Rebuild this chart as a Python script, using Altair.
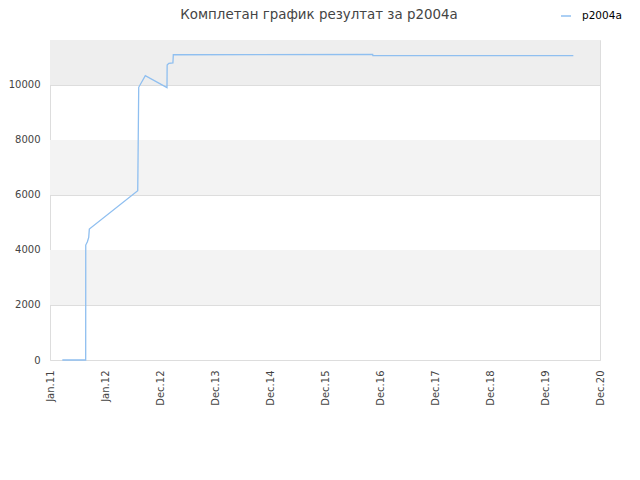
import altair as alt
import pandas as pd

# ---- data ----
x_labels = ["Jan.11", "Jan.12", "Dec.12", "Dec.13", "Dec.14", "Dec.15",
            "Dec.16", "Dec.17", "Dec.18", "Dec.19", "Dec.20"]
x_pos = [0.224, 0.649, 0.650, 0.680, 0.704, 0.715, 1.595, 1.598, 1.613,
         1.733, 2.127, 2.130, 2.160, 2.235, 2.242, 5.867, 5.870, 9.515]
y_val = [0, 0, 4180, 4300, 4460, 4760, 6157, 6730, 9916,
         10338, 9902, 10727, 10788, 10800, 11100, 11110, 11070, 11070]
series_name = "p2004a"
y_ticks = [0, 2000, 4000, 6000, 8000, 10000]
y_max = 11636
band_lo = [2000, 6000, 10000]
band_hi = [4000, 8000, 11636]
band_col = ["#f3f3f3", "#f3f3f3", "#eeeeee"]
title_text = "Комплетан график резултат за p2004a"

line_df = pd.DataFrame({"x": x_pos, "y": y_val, "s": series_name,
                        "o": list(range(len(x_pos)))})
band_df = pd.DataFrame({"lo": band_lo, "hi": band_hi, "c": band_col})

label_js = "[" + ",".join("'" + l + "'" for l in x_labels) + "][datum.value]"

yscale = alt.Scale(domain=[0, y_max], nice=False, zero=True)
xscale = alt.Scale(domain=[0, 10], nice=False, zero=True)

y_axis = alt.Axis(values=y_ticks, format="d", grid=True, gridColor="#dddddd",
                  ticks=False, domain=False, labelPadding=10,
                  labelFontSize=10, labelColor="#444", labelFont="DejaVu Sans")

bands = alt.Chart(band_df).mark_rect().encode(
    x=alt.value(0), x2=alt.value(550),
    y=alt.Y("lo:Q", scale=yscale, title=None, axis=y_axis),
    y2="hi:Q",
    fill=alt.Fill("c:N", scale=None),
)

line = alt.Chart(line_df).mark_line(strokeWidth=1.3, interpolate="linear").encode(
    x=alt.X("x:Q", scale=xscale, title=None,
            axis=alt.Axis(values=list(range(11)), labelExpr=label_js,
                          labelAngle=270, grid=False, ticks=False, domain=False,
                          labelPadding=10, labelFontSize=10, labelColor="#444",
                          labelFont="DejaVu Sans")),
    y=alt.Y("y:Q", scale=yscale, title=None, axis=y_axis),
    stroke=alt.Stroke("s:N", scale=alt.Scale(range=["#8fbff0"]),
                      legend=alt.Legend(title=None, orient="none", legendX=510,
                                        legendY=-30, symbolType="stroke",
                                        symbolSize=100, symbolStrokeWidth=1.5,
                                        labelOffset=10, labelFontSize=10.5,
                                        labelColor="#000", labelFont="DejaVu Sans")),
    order="o:Q",
)

chart = alt.layer(bands, line).properties(
    width=550, height=320,
    title=alt.Title(title_text, fontSize=13.4, font="DejaVu Sans", color="#444",
                    fontWeight="normal", anchor="middle", offset=0, dy=11, dx=-6),
    autosize=alt.AutoSizeParams(type="none"),
    padding={"left": 42, "top": 32, "right": 32, "bottom": 112},
    background="white",
).configure_view(stroke="#dddddd")

chart.save("out.html", embed_options={"renderer": "svg", "actions": False})
